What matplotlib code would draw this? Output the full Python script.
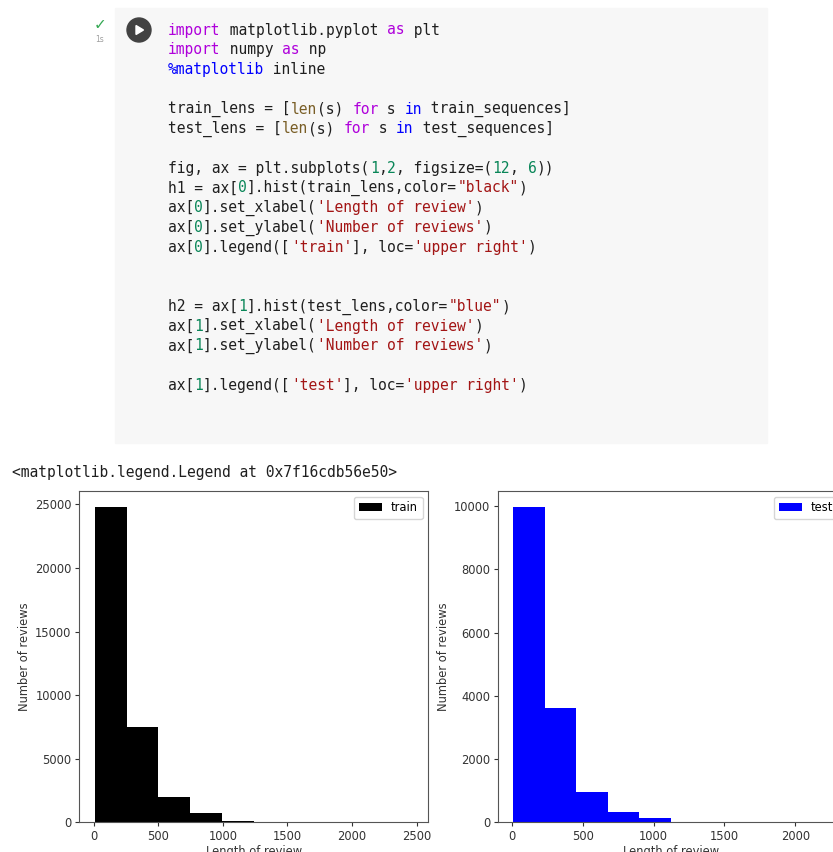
import matplotlib.pyplot as plt
from matplotlib.patches import Circle, Polygon, Rectangle
import numpy as np

W, H = 833, 852

# histogram data (10 bins each)
train_min, train_width = 8, 246
train_counts = [24810, 7490, 1960, 705, 100, 22, 8, 3, 1, 1]
test_min, test_width = 11, 222
test_counts = [9980, 3610, 955, 315, 145, 10, 3, 1, 1, 1]

output_line = "<matplotlib.legend.Legend at 0x7f16cdb56e50>"

# code cell, one list of (text, kind) per line
code_lines = [
    [("import", "kw"), (" matplotlib.pyplot ", ""), ("as", "kw"), (" plt", "")],
    [("import", "kw"), (" numpy ", ""), ("as", "kw"), (" np", "")],
    [("%matplotlib", "op"), (" inline", "")],
    [],
    [("train_lens = [", ""), ("len", "fn"), ("(s) ", ""), ("for", "kw"), (" s ", ""), ("in", "op"), (" train_sequences]", "")],
    [("test_lens = [", ""), ("len", "fn"), ("(s) ", ""), ("for", "kw"), (" s ", ""), ("in", "op"), (" test_sequences]", "")],
    [],
    [("fig, ax = plt.subplots(", ""), ("1", "num"), (",", ""), ("2", "num"), (", figsize=(", ""), ("12", "num"), (", ", ""), ("6", "num"), ("))", "")],
    [("h1 = ax[", ""), ("0", "num"), ("].hist(train_lens,color=", ""), ('"black"', "str"), (")", "")],
    [("ax[", ""), ("0", "num"), ("].set_xlabel(", ""), ("'Length of review'", "str"), (")", "")],
    [("ax[", ""), ("0", "num"), ("].set_ylabel(", ""), ("'Number of reviews'", "str"), (")", "")],
    [("ax[", ""), ("0", "num"), ("].legend([", ""), ("'train'", "str"), ("], loc=", ""), ("'upper right'", "str"), (")", "")],
    [],
    [],
    [("h2 = ax[", ""), ("1", "num"), ("].hist(test_lens,color=", ""), ('"blue"', "str"), (")", "")],
    [("ax[", ""), ("1", "num"), ("].set_xlabel(", ""), ("'Length of review'", "str"), (")", "")],
    [("ax[", ""), ("1", "num"), ("].set_ylabel(", ""), ("'Number of reviews'", "str"), (")", "")],
    [],
    [("ax[", ""), ("1", "num"), ("].legend([", ""), ("'test'", "str"), ("], loc=", ""), ("'upper right'", "str"), (")", "")],
]

colors = {"": "#1f1f1f", "kw": "#af00db", "op": "#0000ff", "fn": "#795e26",
          "num": "#098658", "str": "#a31515"}


def fx(x):
    return x / W


def fy(y):
    return 1 - y / H


fig = plt.figure(figsize=(W / 100, H / 100), dpi=100)

# code cell background
fig.add_artist(Rectangle((fx(115), fy(443)), fx(767) - fx(115), fy(8) - fy(443),
                         transform=fig.transFigure, color="#f7f7f7", zorder=0))

# run button and status
fig.add_artist(Circle((139 / 100, (H - 30) / 100), 0.12, transform=fig.dpi_scale_trans,
                      color="#424242"))
fig.add_artist(Polygon([[1.36, (H - 34.5) / 100], [1.36, (H - 25.5) / 100], [1.435, (H - 30) / 100]],
                       closed=True, transform=fig.dpi_scale_trans, color="white"))
fig.text(fx(100), fy(25), "\u2713", color="#34a853", fontsize=11, ha="center", va="center")
fig.text(fx(100), fy(39), "1s", color="#9e9e9e", fontsize=5.5, ha="center", va="center")

char_w = 8.77
fs_code = char_w / 0.602 * 72 / 100
for i, line in enumerate(code_lines):
    col = 0
    y = 30 + i * 19.75
    for text, kind in line:
        fig.text(fx(168 + col * char_w), fy(y), text, family="DejaVu Sans Mono",
                 fontsize=fs_code, color=colors[kind], va="center", ha="left")
        col += len(text)

fig.text(fx(12), fy(472), output_line, family="DejaVu Sans Mono", fontsize=fs_code,
         color="#1f1f1f", va="center", ha="left")

# the two histograms
train_edges = train_min + train_width * np.arange(11)
test_edges = test_min + test_width * np.arange(11)

ax0 = fig.add_axes([fx(79), fy(822.3), fx(428.3) - fx(79), fy(491) - fy(822.3)])
ax1 = fig.add_axes([fx(497.7), fy(822.3), fx(843.7) - fx(497.7), fy(491) - fy(822.3)])

ax0.hist(train_edges[:-1] + train_width / 2, bins=train_edges, weights=train_counts, color="black")
ax1.hist(test_edges[:-1] + test_width / 2, bins=test_edges, weights=test_counts, color="blue")

fs = 8.3
for ax, name in [(ax0, "train"), (ax1, "test")]:
    ax.set_xlabel("Length of review", fontsize=fs, color="#333333", labelpad=2.0)
    ax.set_ylabel("Number of reviews", fontsize=fs, color="#333333", labelpad=3.3)
    ax.legend([name], loc="upper right", fontsize=fs)
    ax.tick_params(labelsize=fs, colors="#333333", length=2.9, pad=2.4)
    for s in ax.spines.values():
        s.set_color("#555555")

ax0.set_yticks([0, 5000, 10000, 15000, 20000, 25000])
ax1.set_yticks([0, 2000, 4000, 6000, 8000, 10000])
ax0.set_xticks([0, 500, 1000, 1500, 2000, 2500])
ax1.set_xticks([0, 500, 1000, 1500, 2000])

fig.savefig("out.png", dpi=100)
